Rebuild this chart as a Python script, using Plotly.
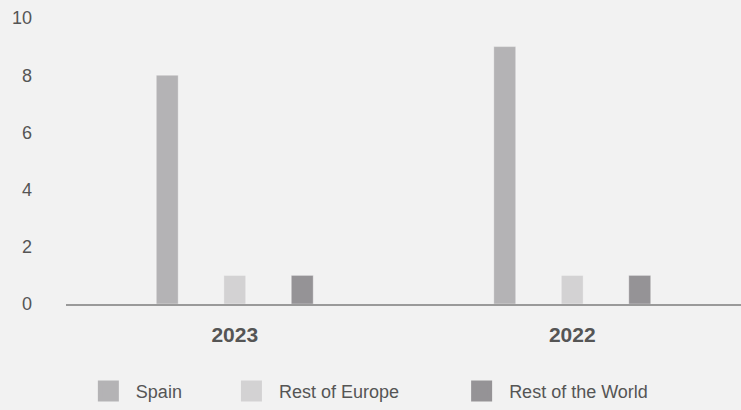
import plotly.graph_objects as go

categories = ["2023", "2022"]
series_names = ["Spain", "Rest of Europe", "Rest of the World"]
spain = [8, 9]
rest_of_europe = [1, 1]
rest_of_world = [1, 1]
series_values = [spain, rest_of_europe, rest_of_world]
series_colors = ["#b4b3b5", "#d3d2d3", "#959396"]
y_ticks = [0, 2, 4, 6, 8, 10]

FONT = "Liberation Sans, Arial, sans-serif"
TXT = "#555555"
BG = "#f2f2f2"

fig = go.Figure()
legend_ids = ["legend", "legend2", "legend3"]
for name, vals, col, lg in zip(series_names, series_values, series_colors, legend_ids):
    fig.add_trace(go.Bar(
        x=categories, y=vals, name=name, showlegend=False,
        marker=dict(color=col, line=dict(color="rgba(255,255,255,0.35)", width=1)),
    ))
    fig.add_trace(go.Scatter(
        x=[None], y=[None], name=name, mode="markers", legend=lg,
        marker=dict(symbol="square", size=16, color=col, line=dict(color=col, width=5)),
    ))

legend_common = dict(orientation="h", yanchor="middle", y=-0.305, xanchor="left",
                     itemwidth=45,
                     bgcolor="rgba(0,0,0,0)", font=dict(family=FONT, size=18, color=TXT))
fig.update_layout(
    width=741, height=410,
    margin=dict(l=66, r=0, t=18, b=106),
    paper_bgcolor=BG, plot_bgcolor=BG,
    barmode="group", bargap=0.4, bargroupgap=0.675,
    font=dict(family=FONT, size=18, color=TXT),
    legend=dict(legend_common, x=0.022),
    legend2=dict(legend_common, x=0.234),
    legend3=dict(legend_common, x=0.575),
    xaxis=dict(showline=True, linecolor="#9a9a9a", linewidth=2, showgrid=False,
               ticks="", ticklabelstandoff=11,
               tickfont=dict(family=FONT, size=21, color=TXT, weight="bold")),
    yaxis=dict(range=[0, 10], tickvals=y_ticks, showgrid=False, zeroline=False,
               showline=False, ticks="", ticklabelstandoff=33,
               tickfont=dict(family=FONT, size=18, color=TXT)),
)

fig.write_html("out.html", config={"displayModeBar": False},
               post_script="document.body.style.margin='0';")
